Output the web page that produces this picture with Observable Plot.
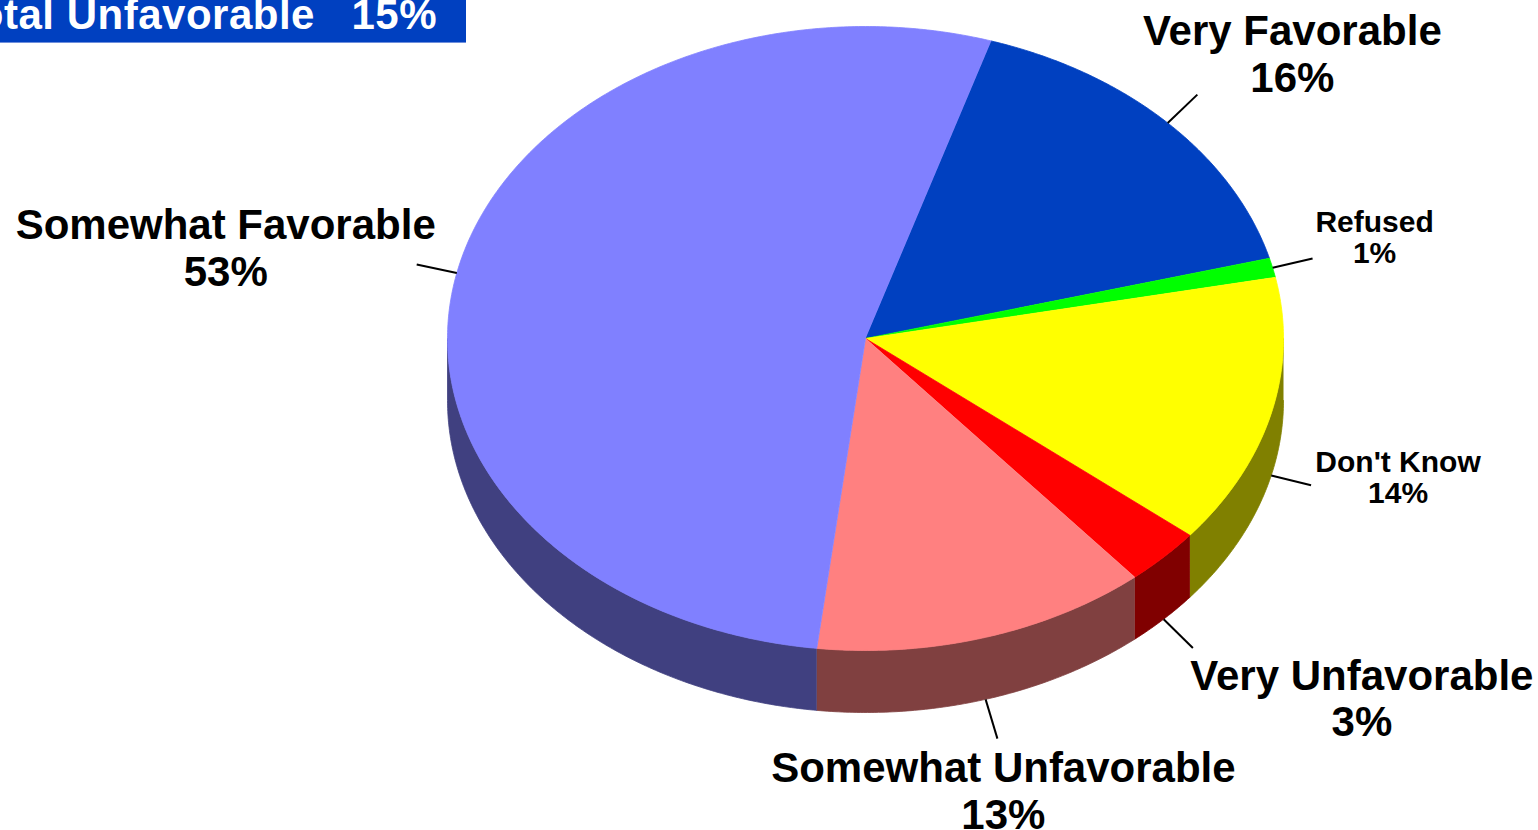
<!DOCTYPE html>
<html>
<head>
<meta charset="utf-8">
<script src="https://cdn.jsdelivr.net/npm/d3@7"></script>
<script src="https://cdn.jsdelivr.net/npm/@observablehq/plot@0.6"></script>
<style>
  html, body { margin: 0; padding: 0; background: #fff; overflow: hidden; }
  #wrap { position: relative; width: 1538px; height: 830px; overflow: hidden; }
  #titlebox { position: absolute; left: -100px; top: -20px; width: 566px; height: 62px; background: #0040C0; border-bottom: 1px solid #6f8fdc; z-index: 2; }
  #title { position: absolute; right: 1101px; top: -6px; text-align: right; white-space: pre;
           font: bold 42px "Liberation Sans", Arial, sans-serif; line-height: 42px; color: #fff; z-index: 3; letter-spacing: 0.5px; }
  #chart { position: absolute; left: 0; top: 0; }
</style>
</head>
<body>
<div id="wrap">
  <div id="titlebox"></div>
  <div id="title">Total Unfavorable   15%</div>
  <div id="chart"></div>
</div>
<script>
// ---- data ----
const categories = ["Very Favorable", "Refused", "Don't Know", "Very Unfavorable", "Somewhat Unfavorable", "Somewhat Favorable"];
const values = [16, 1, 14, 3, 13, 53];
const percentLabels = ["16%", "1%", "14%", "3%", "13%", "53%"];
const topColors = ["#0040C0", "#00FF00", "#FFFF00", "#FF0000", "#FF8080", "#8080FF"];
const sideColors = ["#002060", "#008000", "#808000", "#800000", "#804040", "#404080"];
const smallLabel = [false, true, true, false, false, false];

// ---- layout ----
const W = 1538, H = 830;
const cx = 865, cy = 338, rx = 418, ry = 312, depth = 62, startAngle = 17.5;
const leaderLen = 41;
// offsets of label (center x, cap-top y) from the leader line end
const labelOffsets = [[95, -82], [62, -49], [87, -36], [169, 9], [6, 11], [-191, -58]];

const rad = d => d * Math.PI / 180;
const px = t => cx + rx * Math.sin(rad(t));
const py = t => cy - ry * Math.cos(rad(t));

const total = d3.sum(values);
let acc = startAngle;
const slices = values.map((v, i) => {
  const t0 = acc, t1 = acc + v / total * 360;
  acc = t1;
  return {i, t0, t1, mid: (t0 + t1) / 2};
});

function arc(t0, t1, dy = 0) {
  const n = Math.max(2, Math.ceil((t1 - t0) / 0.5));
  return d3.range(n + 1).map(k => {
    const t = t0 + (t1 - t0) * k / n;
    return {x: px(t), y: py(t) + dy};
  });
}

// side faces (front half: angles 90..270 mod 360)
const sideMarks = [];
slices.forEach(s => {
  for (const off of [0, 360]) {
    const a0 = Math.max(s.t0, 90 + off), a1 = Math.min(s.t1, 270 + off);
    if (a1 > a0) {
      const pts = arc(a0, a1).concat(arc(a0, a1, depth).reverse());
      sideMarks.push(Plot.line(pts, {x: "x", y: "y", fill: sideColors[s.i], stroke: sideColors[s.i], strokeWidth: 0.8}));
    }
  }
});

const topMarks = slices.map(s => {
  const pts = [{x: cx, y: cy}].concat(arc(s.t0, s.t1));
  return Plot.line(pts, {x: "x", y: "y", fill: topColors[s.i], stroke: topColors[s.i], strokeWidth: 0.8});
});

const labelData = slices.map(s => {
  const sn = Math.sin(rad(s.mid)), cs = Math.cos(rad(s.mid));
  const x1 = px(s.mid), y1 = py(s.mid) + (cs < 0 ? depth : 0);
  const x2 = x1 + leaderLen * sn, y2 = y1 - leaderLen * cs;
  const [ox, oy] = labelOffsets[s.i];
  return {x1, y1, x2, y2, lx: x2 + ox, ly: y2 + oy,
          text: categories[s.i] + "\n" + percentLabels[s.i], small: smallLabel[s.i]};
});

const chart = Plot.plot({
  width: W, height: H, margin: 0,
  x: {domain: [0, W], range: [0, W], axis: null},
  y: {domain: [0, H], range: [0, H], axis: null},
  style: {fontFamily: "'Liberation Sans', Arial, sans-serif", background: "transparent", overflow: "visible"},
  marks: [
    ...sideMarks,
    ...topMarks,
    Plot.link(labelData, {x1: "x1", y1: "y1", x2: "x2", y2: "y2", stroke: "#000", strokeWidth: 2}),
    Plot.text(labelData.filter(d => !d.small), {x: "lx", y: "ly", text: "text", fontSize: 42, fontWeight: "bold",
      lineAnchor: "top", textAnchor: "middle", lineHeight: 1.1, fill: "#000"}),
    Plot.text(labelData.filter(d => d.small), {x: "lx", y: "ly", text: "text", fontSize: 30, fontWeight: "bold",
      lineAnchor: "top", textAnchor: "middle", lineHeight: 1.05, fill: "#000"})
  ]
});
document.getElementById("chart").appendChild(chart);
</script>
</body>
</html>
